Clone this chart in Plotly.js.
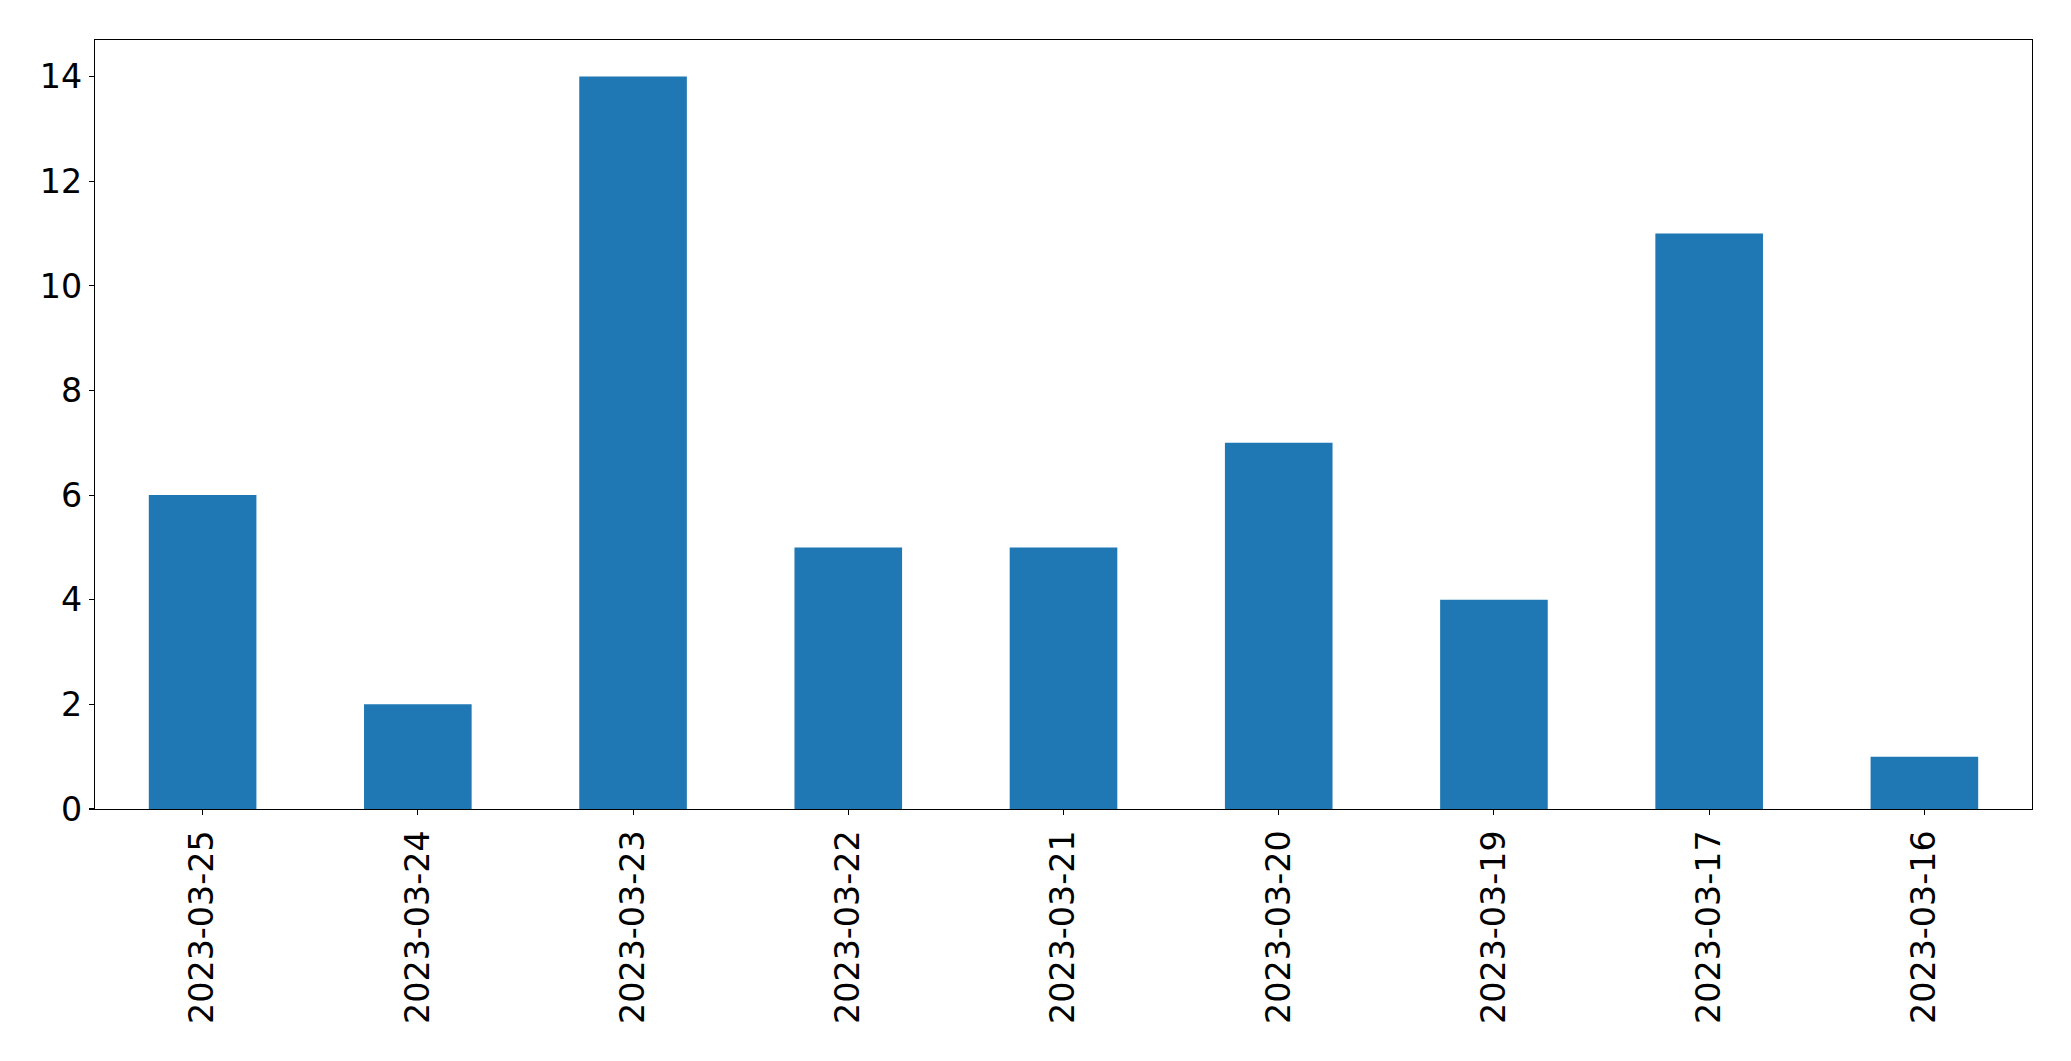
<!DOCTYPE html>
<html>
<head>
<meta charset="utf-8">
<script src="https://cdn.plot.ly/plotly-3.0.1.min.js"></script>
<style>html,body{margin:0;padding:0;background:#fff;}</style>
</head>
<body>
<div id="chart" style="width:2071px;height:1061px;"></div>
<script>
const dates = ["2023-03-25","2023-03-24","2023-03-23","2023-03-22","2023-03-21","2023-03-20","2023-03-19","2023-03-17","2023-03-16"];
const counts = [6, 2, 14, 5, 5, 7, 4, 11, 1];
const yTicks = [0, 2, 4, 6, 8, 10, 12, 14];

const trace = {
  type: 'bar',
  x: dates,
  y: counts,
  width: 0.5,
  marker: {color: '#1f77b4', line: {width: 0}},
  hoverinfo: 'x+y'
};

const font = {family: 'DejaVu Sans, sans-serif', size: 33.3, color: '#000'};

const layout = {
  width: 2071,
  height: 1061,
  margin: {l: 94.5, r: 39, t: 39.5, b: 252},
  paper_bgcolor: '#fff',
  plot_bgcolor: '#fff',
  showlegend: false,
  font: font,
  bargap: 0.5,
  xaxis: {
    type: 'category',
    range: [-0.5, dates.length - 0.5],
    tickangle: -90,
    tickfont: font,
    ticks: 'outside',
    ticklen: 5,
    tickwidth: 1.1,
    tickcolor: '#000',
    showline: true,
    linecolor: '#000',
    linewidth: 1.1,
    mirror: true,
    showgrid: false,
    zeroline: false,
    ticklabelstandoff: 2
  },
  yaxis: {
    range: [0, 14.7],
    tickvals: yTicks,
    ticktext: yTicks.map(String),
    tickfont: font,
    ticks: 'outside',
    ticklen: 5,
    tickwidth: 1.1,
    tickcolor: '#000',
    showline: true,
    linecolor: '#000',
    linewidth: 1.1,
    mirror: true,
    showgrid: false,
    zeroline: false
  }
};

Plotly.newPlot('chart', [trace], layout, {staticPlot: true, displayModeBar: false});
</script>
</body>
</html>
